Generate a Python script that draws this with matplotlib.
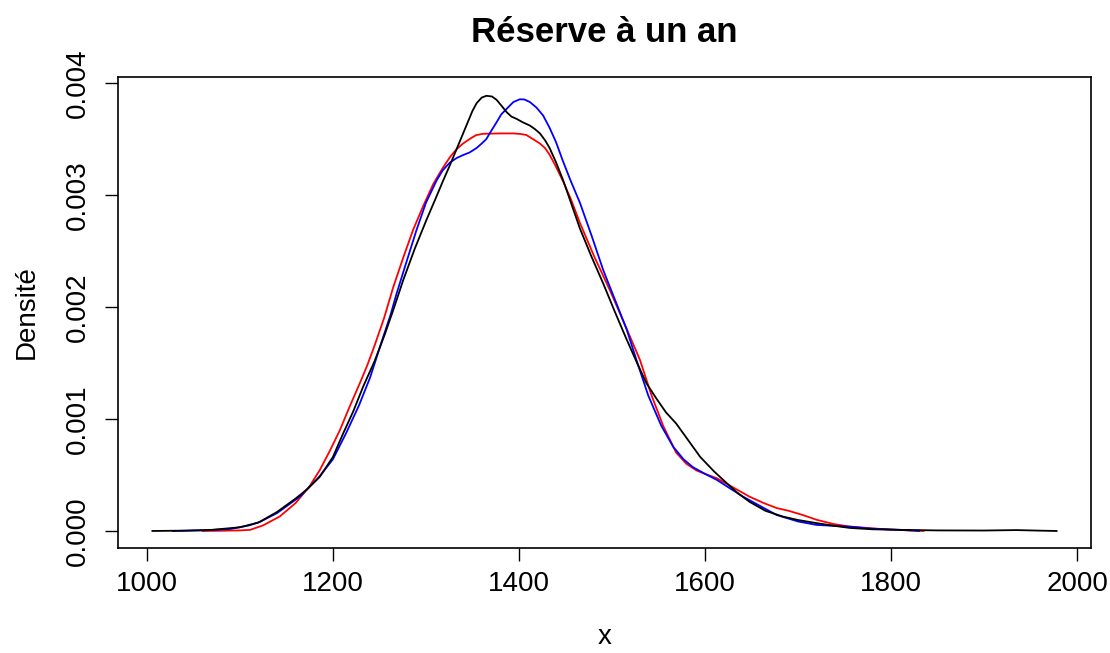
import matplotlib.pyplot as plt
import numpy as np

plt.rcParams['font.family'] = ['Liberation Sans', 'DejaVu Sans']

# density estimates, three curves (x grid, density)
black_x = [1006, 1040, 1070, 1100, 1120, 1140, 1160, 1172, 1186, 1200, 1211, 1222,
           1232.6, 1245, 1256, 1266, 1275.6, 1288, 1300.7, 1310, 1318.6, 1326, 1333,
           1340, 1345, 1350, 1354.5, 1360, 1365, 1371, 1376, 1381, 1386.8, 1392,
           1397.5, 1404, 1411.8, 1417, 1422.6, 1428, 1433, 1440, 1447.6, 1456,
           1465.6, 1478, 1490.6, 1503, 1515.8, 1527, 1537, 1548, 1558, 1569, 1582,
           1595, 1610, 1623, 1635, 1648, 1665, 1684, 1700, 1720, 1740, 1756, 1780,
           1810, 1850, 1900, 1935, 1960, 1978]
black_y = [0.0, 0.000003, 0.00001, 0.000033, 0.000075, 0.00017, 0.00029, 0.00037,
           0.000485, 0.00066, 0.00087, 0.00107, 0.00129, 0.00152, 0.00176, 0.002,
           0.00224, 0.00252, 0.00278, 0.00296, 0.00313, 0.00327, 0.00341, 0.00355,
           0.00365, 0.00375, 0.00382, 0.00387, 0.003886, 0.00388, 0.00385, 0.0038,
           0.00374, 0.0037, 0.00368, 0.00365, 0.00362, 0.00359, 0.00355, 0.00349,
           0.00342, 0.00329, 0.00313, 0.00293, 0.0027, 0.00245, 0.00221, 0.00196,
           0.00171, 0.0015, 0.00132, 0.00118, 0.00106, 0.00096, 0.00081, 0.00066,
           0.00053, 0.00043, 0.00034, 0.00026, 0.00018, 0.000128, 0.000098, 0.00007,
           0.000045, 0.000027, 0.000015, 0.00001, 0.000005, 0.000004, 0.000008,
           0.000003, 0.0]

blue_x = [1028, 1060, 1090, 1110, 1122, 1140, 1165, 1185, 1200, 1214, 1228, 1240,
          1254, 1262, 1268.5, 1279, 1290, 1300, 1311.5, 1318, 1325.8, 1333, 1340,
          1347, 1354.5, 1360, 1365, 1370, 1376, 1381, 1386.8, 1394, 1401, 1406,
          1411.8, 1419, 1426, 1433, 1440, 1447, 1455, 1465.6, 1478, 1490.6, 1503,
          1515.8, 1527, 1539, 1553, 1566, 1577, 1587, 1600, 1613, 1627, 1641, 1660,
          1677, 1700, 1720, 1756, 1780, 1810, 1830]
blue_y = [0.0, 0.000005, 0.000018, 0.00005, 0.000083, 0.00016, 0.00031, 0.00048,
          0.00064, 0.00087, 0.00112, 0.00137, 0.00173, 0.00193, 0.00212, 0.0024,
          0.00269, 0.00293, 0.00313, 0.00322, 0.00329, 0.00333, 0.003357, 0.00338,
          0.00342, 0.00346, 0.0035, 0.00357, 0.00365, 0.00372, 0.00377, 0.00383,
          0.003855, 0.003853, 0.00383, 0.00378, 0.00371, 0.0036, 0.00347, 0.00331,
          0.00314, 0.00293, 0.00264, 0.00233, 0.00207, 0.0018, 0.00151, 0.00121,
          0.00094, 0.00075, 0.00064, 0.00057, 0.00051, 0.000455, 0.00038, 0.000306,
          0.00022, 0.000143, 0.000085, 0.000054, 0.000038, 0.00002, 0.00001, 0.0]

red_x = [1060, 1080, 1100, 1111, 1125, 1143, 1160, 1175, 1186, 1197, 1207.5, 1218,
         1229, 1237, 1245, 1255, 1265, 1276, 1286.3, 1297, 1308, 1318, 1326, 1333,
         1340, 1347, 1354, 1361.6, 1380, 1394, 1402, 1408, 1415, 1422.6, 1428, 1433,
         1440, 1447.6, 1456, 1465.6, 1481, 1497.8, 1514, 1530, 1542.6, 1555, 1569,
         1580, 1591, 1600, 1613, 1630, 1648, 1663, 1677, 1690, 1705, 1720, 1738,
         1755, 1774, 1800, 1835]
red_y = [0.0, 0.000002, 0.000005, 0.00001, 0.00005, 0.00013, 0.00025, 0.0004,
         0.000545, 0.00072, 0.0009, 0.00111, 0.00132, 0.00148, 0.00166, 0.0019,
         0.00218, 0.00245, 0.00269, 0.0029, 0.0031, 0.00324, 0.00334, 0.00341,
         0.00346, 0.0035, 0.003535, 0.003547, 0.00355, 0.00355, 0.003545, 0.003536,
         0.0035, 0.00346, 0.00342, 0.00336, 0.00325, 0.00312, 0.00296, 0.00275,
         0.00245, 0.00215, 0.00184, 0.00153, 0.00121, 0.00094, 0.0007, 0.0006,
         0.00054, 0.00051, 0.00047, 0.00039, 0.000306, 0.00025, 0.000205, 0.00018,
         0.000143, 0.0001, 0.0000625, 0.00004, 0.000027, 0.000012, 0.0]

xticks = [1000, 1200, 1400, 1600, 1800, 2000]
yticks = [0.000, 0.001, 0.002, 0.003, 0.004]

fig = plt.figure(figsize=(11.1, 6.53), dpi=100)
ax = fig.add_axes([0.1063, 0.1608, 0.8766, 0.7213])

ax.plot(red_x, red_y, color='red', lw=1.3)
ax.plot(blue_x, blue_y, color='blue', lw=1.3)
ax.plot(black_x, black_y, color='black', lw=1.3)

# R-style 4% padding around the data range
ax.set_xlim(969, 2015)
ax.set_ylim(-0.000152, 0.004054)

ax.set_xticks(xticks)
ax.set_xticklabels([str(v) for v in xticks])
ax.set_yticks(yticks)
ax.set_yticklabels(['{:.3f}'.format(v) for v in yticks], rotation=90, va='center')
ax.tick_params(direction='out', length=9.5, width=1.0, labelsize=20, colors='black')
ax.tick_params(axis='x', pad=7)
ax.tick_params(axis='y', pad=10)
for s in ax.spines.values():
    s.set_linewidth(1.2)

ax.set_title('Réserve à un an', fontsize=25, fontweight='bold', pad=25)
fig.text(0.5445, 0.0138, 'x', ha='center', va='baseline', fontsize=20)
fig.text(0.024, 0.522, 'Densité', ha='center', va='center', rotation=90, fontsize=20)

fig.savefig('out.png', dpi=100)
